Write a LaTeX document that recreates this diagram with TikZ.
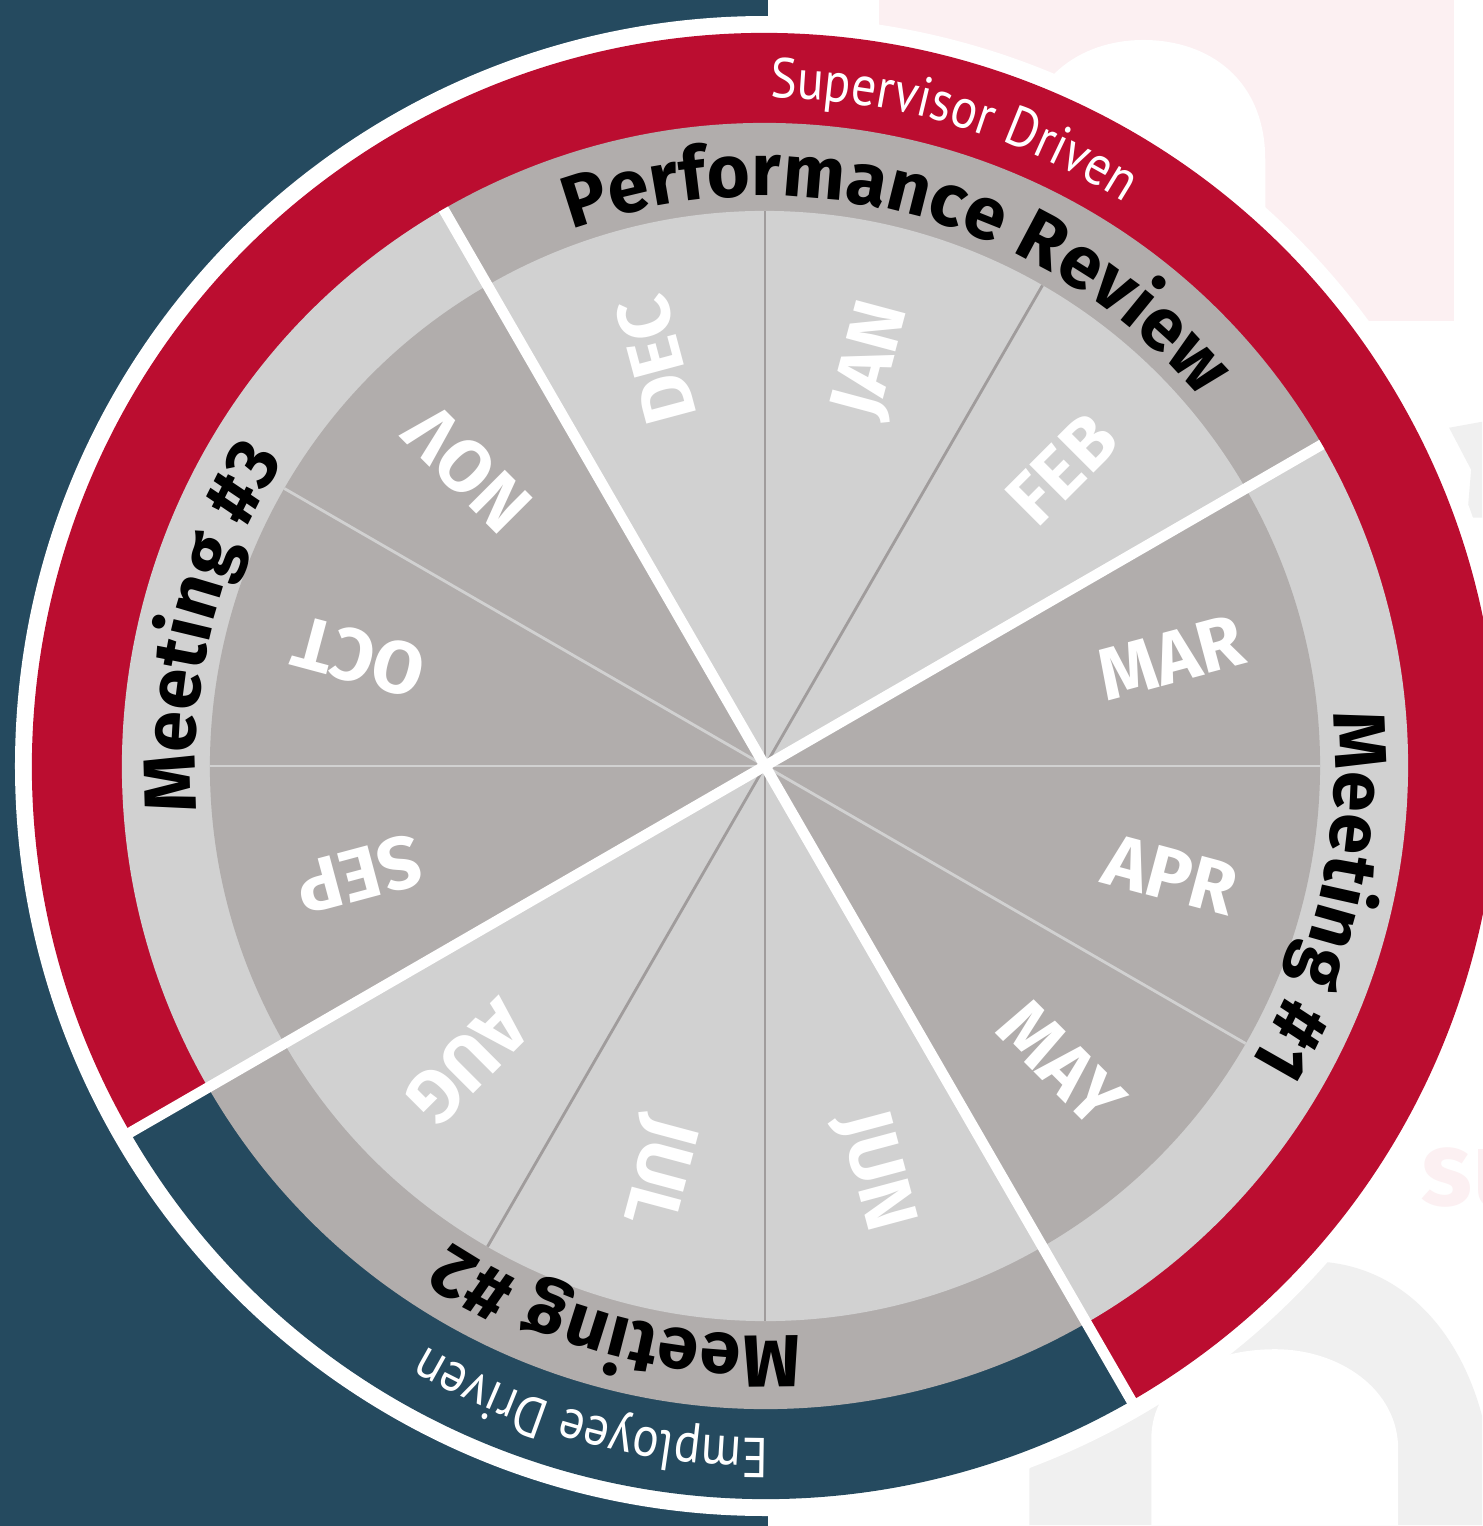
\documentclass[tikz,border=0pt]{standalone}
\usepackage{fontspec}
\setmainfont{Fira Sans}
\newfontfamily\ringfont[FakeStretch=0.88]{PT Sans}
\usetikzlibrary{decorations.text}
\definecolor{wheelred}{RGB}{187,13,48}
\definecolor{wheelblue}{RGB}{37,74,95}
\definecolor{lightgrey}{RGB}{209,209,209}
\definecolor{darkgrey}{RGB}{177,173,172}
\definecolor{seamgrey}{RGB}{160,156,156}
\definecolor{palepink}{RGB}{252,240,242}
\definecolor{palegrey}{RGB}{240,240,240}
\newcommand\bandfont{\bfseries\fontsize{21}{21}\selectfont}
\newcommand\monthfont{\bfseries\fontsize{21}{21}\selectfont}
\newcommand\drivenfont{\ringfont\fontsize{16}{16}\selectfont}
\begin{document}
\begin{tikzpicture}[
    month/.style={text=white, font=\monthfont, inner sep=0pt},
    spoke/.style={white, line width=3pt},
    seam/.style={line width=0.8pt},
    bandlabel/.style={decorate, decoration={text along path, text align=center,
        text={|\bandfont|#1}}},
    drivenlabel/.style={decorate, decoration={text along path, text align=center,
        text color=white, text={|\drivenfont|#1}}}
    ]
  \useasboundingbox (-7.65,-7.60) rectangle (7.18,7.66);
  \clip (-7.65,-7.60) rectangle (7.18,7.66);
  \fill[white] (-7.65,-7.60) rectangle (7.18,7.66);
  \fill[wheelblue] (-7.65,-7.60) rectangle (0.03,7.66);
  % faint page shapes behind the wheel
  \begin{scope}[x=0.01cm, y=-0.01cm, shift={(-7.65cm,7.66cm)}]
    \fill[palepink] (880,0) rectangle (1455,321);
    \fill[white] (1022,330) -- (1022,160) .. controls (1022,80) and (1080,40) .. (1144,40)
      .. controls (1210,40) and (1266,80) .. (1266,160) -- (1266,330) -- cycle;
    \fill[palegrey] (1450,428) -- (1483,422) -- (1483,518) -- (1468,518) -- (1472,470) -- cycle;
    \fill[palegrey] (1030,1526) -- (1030,1470) .. controls (1100,1300) and (1250,1262) .. (1310,1262)
      .. controls (1400,1262) and (1460,1330) .. (1483,1417) -- (1483,1526) -- cycle;
    \fill[white] (1152,1526) -- (1152,1440) .. controls (1152,1380) and (1210,1350) .. (1276,1350)
      .. controls (1340,1350) and (1399,1390) .. (1399,1450) -- (1399,1526) -- cycle;
    \node[anchor=west, text=palepink, font=\bfseries\fontsize{30}{30}\selectfont] (su) at (1410,1178) {su};
  \end{scope}
  % wheel
  \fill[white] (0,0) circle (7.50);
  \fill[wheelred] (0,0) -- (-60:7.33) arc (-60:210:7.33) -- cycle;
  \fill[wheelblue] (0,0) -- (210:7.33) arc (210:300:7.33) -- cycle;
  \foreach \a/\c in {30/darkgrey, 120/lightgrey, 210/darkgrey, 300/lightgrey}
    \fill[\c] (0,0) -- (\a:6.43) arc (\a:\a+90:6.43) -- cycle;
  \foreach \a/\c in {30/lightgrey, 120/darkgrey, 210/lightgrey, 300/darkgrey}
    \fill[\c] (0,0) -- (\a:5.55) arc (\a:\a+90:5.55) -- cycle;
  \foreach \a in {60,90,240,270}
    \draw[seam, seamgrey] (0,0) -- (\a:5.55);
  \foreach \a in {0,150,180,330}
    \draw[seam, lightgrey] (0,0) -- (\a:5.55);
  \foreach \a in {30,120}
    \draw[spoke] (0,0) -- (\a:6.43);
  \foreach \a in {210,300}
    \draw[spoke] (0,0) -- (\a:7.40);
  \foreach \m [count=\i] in {JAN,FEB,MAR,APR,MAY,JUN,JUL,AUG,SEP,OCT,NOV,DEC}
    \node[month, rotate=105-30*\i] (\m) at (105-30*\i:4.2) {\m};
  \path[bandlabel={Performance Review}] (112:5.70) arc (112:38:5.70);
  \path[bandlabel={Meeting {\#}1}] (22:5.70) arc (22:-48:5.70);
  \path[bandlabel={Meeting {\#}2}] (290:5.70) arc (290:220:5.70);
  \path[bandlabel={Meeting {\#}3}] (201:5.70) arc (201:131:5.70);
  \path[drivenlabel={Supervisor Driven}] (110:6.68) arc (110:37:6.68);
  \path[drivenlabel={Employee Driven}] (290:6.72) arc (290:220:6.72);
\end{tikzpicture}
\end{document}
